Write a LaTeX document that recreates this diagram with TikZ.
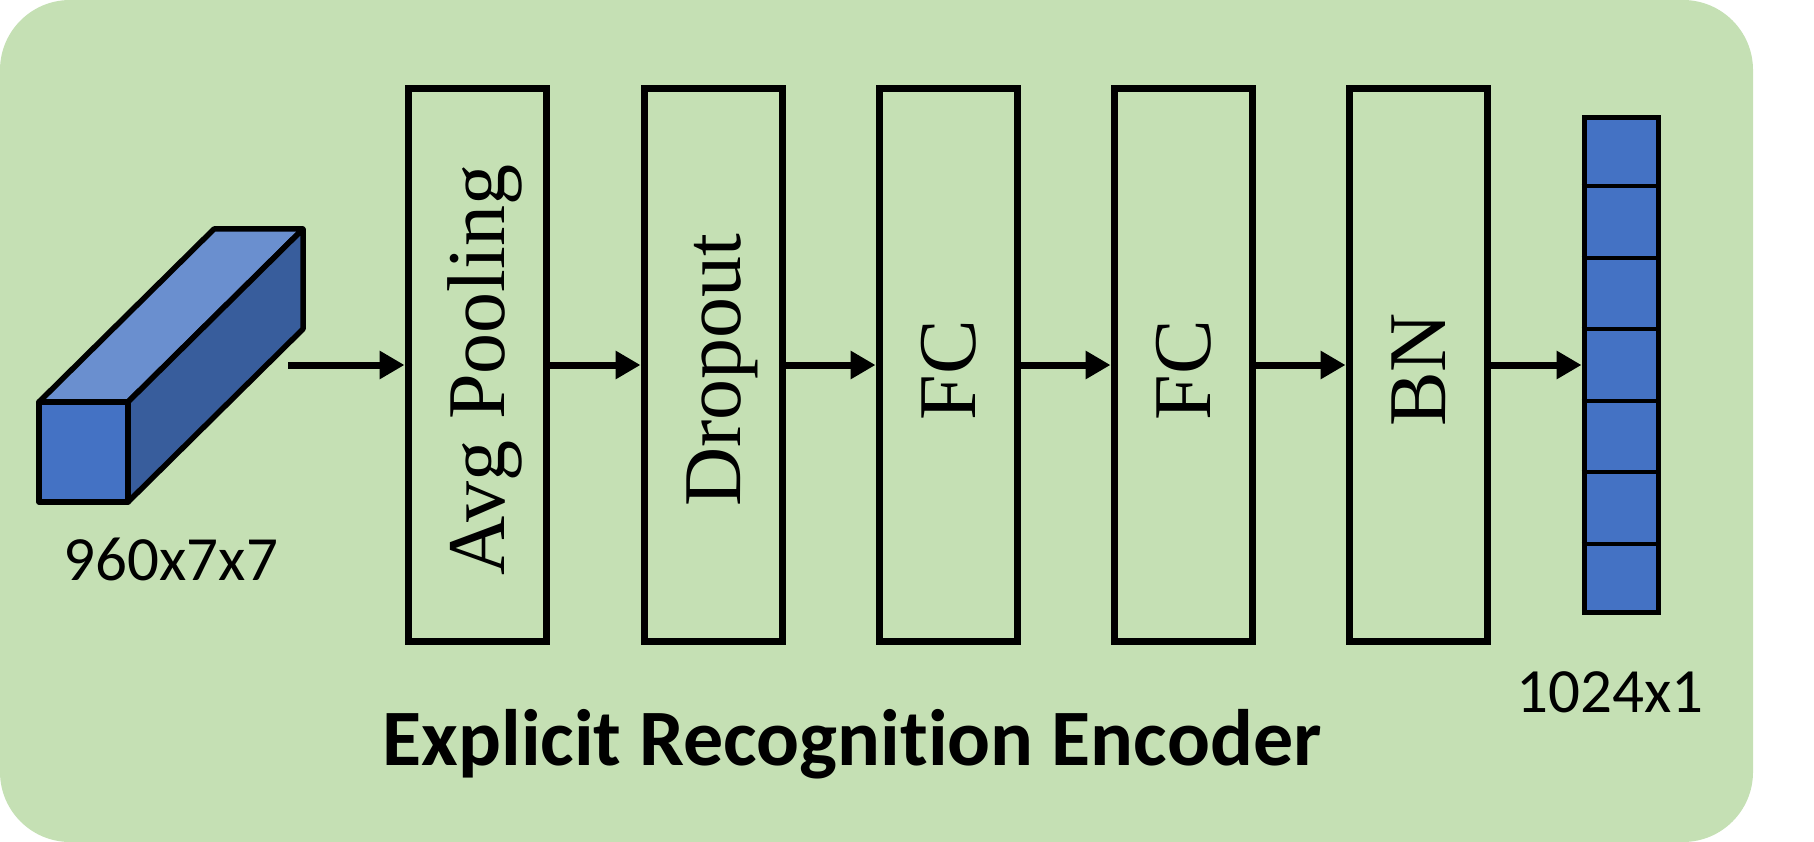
\documentclass[tikz,border=0pt]{standalone}
\usepackage{fontspec}
\setmainfont{Liberation Serif}
\newfontfamily\calfont{Carlito}[Ligatures={NoCommon,NoRare},RawFeature={-liga;-clig;-dlig}]
\usetikzlibrary{arrows.meta,calc}
\definecolor{bggreen}{HTML}{C5E0B4}
\definecolor{cubefront}{HTML}{4472C4}
\definecolor{cubetop}{HTML}{6A8FCF}
\definecolor{cubeside}{HTML}{385D9C}
\begin{document}
\begin{tikzpicture}[x=1pt,y=-1pt,
  layer/.style={draw=black,line width=7pt,minimum width=138pt,minimum height=553pt,inner sep=0pt},
  layertext/.style={rotate=90,inner sep=0pt,text height=54pt,text depth=0pt,font=\fontsize{82}{90}\selectfont},
  flow/.style={line width=7pt,-{Triangle[length=25pt,width=27pt]}},
  dimlabel/.style={anchor=base,font=\calfont\fontsize{63}{70}\selectfont},
  cubeface/.style={draw=black,line width=5.5pt,line join=round},
  cellline/.style={draw=black,line width=4pt}]
\useasboundingbox (0,0) rectangle (1814,842);
\fill[bggreen,rounded corners=70pt] (0,0) rectangle (1753,842);
% input feature cuboid
\filldraw[cubeface,fill=cubetop] (39,402) -- (214,229) -- (303,229) -- (128,402) -- cycle;
\filldraw[cubeface,fill=cubeside] (128,402) -- (303,229) -- (303,329) -- (128,502) -- cycle;
\filldraw[cubeface,fill=cubefront] (39,402) rectangle (128,502);
\node[dimlabel] (inlbl) at (171,580) {960x7x7};
% layers
\node[layer] (avg) at (477,365) {};
\node[layer] (drop) at (713,365) {};
\node[layer] (fc1) at (948,365) {};
\node[layer] (fc2) at (1183,365) {};
\node[layer] (bn) at (1418,365) {};
\node[layertext] (avgt) at ($(avg)+(0,5)$) {Avg Pooling};
\node[layertext] (dropt) at ($(drop)+(0,5)$) {Dropout};
\node[layertext] (fc1t) at ($(fc1)+(0,5)$) {FC};
\node[layertext] (fc2t) at ($(fc2)+(0,5)$) {FC};
\node[layertext] (bnt) at ($(bn)+(0,5)$) {BN};
% output vector
\node[draw=black,fill=cubefront,line width=5pt,minimum width=74pt,minimum height=495pt,inner sep=0pt] (vec) at (1621,365) {};
\foreach \i in {1,...,6}
  \draw[cellline] ($(vec.north west)!\i/7!(vec.south west)$) -- ($(vec.north east)!\i/7!(vec.south east)$);
\node[dimlabel] (outlbl) at (1610,712) {1024x1};
% arrows
\coordinate (start) at (288,365);
\draw[flow] (start) -- (avg);
\draw[flow] (avg) -- (drop);
\draw[flow] (drop) -- (fc1);
\draw[flow] (fc1) -- (fc2);
\draw[flow] (fc2) -- (bn);
\draw[flow] (bn) -- (vec);
% title
\node[anchor=base,font=\calfont\bfseries\fontsize{80}{90}\selectfont] (title) at (852,765) {Explicit Recognit\kern0pt ion Encoder};
\end{tikzpicture}
\end{document}
